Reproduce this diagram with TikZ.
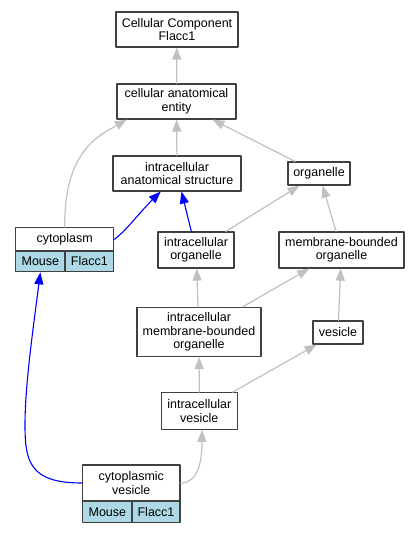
\documentclass[tikz,border=0pt]{standalone}
\usepackage{fontspec}
\setmainfont{Liberation Sans}
\usetikzlibrary{arrows.meta}
\definecolor{isagray}{HTML}{C0C0C0}
\definecolor{cellblue}{HTML}{ADD8E6}
\begin{document}
\begin{tikzpicture}[x=1pt,y=-1pt,line cap=round,line join=round,
		font=\fontsize{12.5}{13.5}\selectfont,>={Triangle[length=12pt,width=9pt]},
		term/.style={draw=black!75,line width=1.2pt,fill=white,inner sep=0pt,align=center},
		cell/.style={term,fill=cellblue},
		isa/.style={->,draw=isagray,line width=1.2pt},
		partof/.style={->,draw=blue,line width=1.1pt}]
				\useasboundingbox (0,0) rectangle (419,533);
				% terms
				\node[term,minimum width=122pt,minimum height=35pt] (cc) at (177,29.5) {Cellular Component\\Flacc1};
				\node[term,minimum width=119pt,minimum height=35pt] (cae) at (176.5,101.5) {cellular anatomical\\entity};
				\node[term,minimum width=128pt,minimum height=35pt] (ias) at (177,173.5) {intracellular\\anatomical structure};
				\node[term,minimum width=62pt,minimum height=23pt] (org) at (319,173.5) {organelle};
				\node[term,minimum width=76pt,minimum height=36pt] (io) at (196,250) {intracellular\\organelle};
				\node[term,minimum width=125pt,minimum height=36pt] (mbo) at (341.5,250) {membrane-bounded\\organelle};
				\node[term,minimum width=124pt,minimum height=49pt] (imbo) at (199,332) {intracellular\\membrane-bounded\\organelle};
				\node[term,minimum width=50pt,minimum height=23pt] (ves) at (338,332.5) {vesicle};
				\node[term,minimum width=76pt,minimum height=36.5pt] (iv) at (199.3,411) {intracellular\\vesicle};
				% annotated terms
				\node[term,minimum width=98pt,minimum height=23.3pt] (cyto) at (64.7,239.35) {cytoplasm};
				\node[cell,minimum width=49.3pt,minimum height=20.7pt] (cym) at (40.35,261.35) {Mouse};
				\node[cell,minimum width=48.7pt,minimum height=20.7pt] (cyf) at (89.35,261.35) {Flacc1};
				\node[term,minimum width=97.3pt,minimum height=36pt] (cv) at (131.35,483) {cytoplasmic\\vesicle};
				\node[cell,minimum width=49.3pt,minimum height=21.7pt] (cvm) at (107.35,511.85) {Mouse};
				\node[cell,minimum width=48pt,minimum height=21.7pt] (cvf) at (156,511.85) {Flacc1};
				% is_a
				\draw[isa] (cae)--(cc);
				\draw[isa] (ias)--(cae);
				\draw[isa] (org)--(cae);
				\draw[isa] (cyto.north) .. controls (64,150) and (100,135) .. (cae.200);
				\draw[isa] (io)--(org);
				\draw[isa] (mbo)--(org);
				\draw[isa] (imbo)--(io);
				\draw[isa] (imbo)--(mbo);
				\draw[isa] (ves)--(mbo);
				\draw[isa] (iv)--(imbo);
				\draw[isa] (iv)--(ves);
				\draw[isa] (cv.east) .. controls (198,483) and (202,462) .. (iv.278);
				% part_of
				\draw[partof] (cyto.east) .. controls (125,232) and (140,212) .. (ias.228);
				\draw[partof] (io)--(ias);
				\draw[partof] (cv.west) .. controls (30,483) and (25,462) .. (25,425) .. controls (25,385) and (33,330) .. (cym.south);
		\end{tikzpicture}
\end{document}
